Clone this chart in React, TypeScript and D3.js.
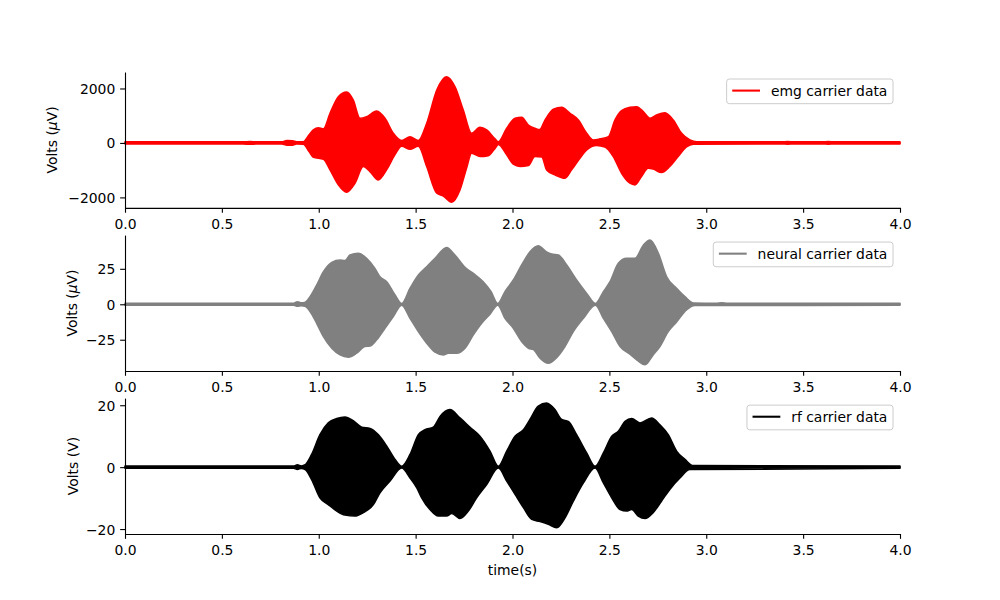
import React, { useRef, useEffect } from 'react';
import * as d3 from 'd3';

type Pt = [number, number];

// time axis ticks (s)
const xTicks = [0, 0.5, 1, 1.5, 2, 2.5, 3, 3.5, 4];

// envelopes of the carrier signals, [time (s), value]
const emgUpper: Pt[] = [
  [0, 40], [0.61, 40], [0.645, 52], [0.68, 40], [0.81, 40], [0.835, 85], [0.865, 80], [0.885, 40],
  [0.92, 45], [0.95, 300], [0.972, 477], [0.998, 562], [1.024, 520], [1.058, 1090], [1.101, 1700],
  [1.144, 1872], [1.178, 1578], [1.213, 905], [1.247, 965], [1.299, 1174], [1.342, 905], [1.385, 356],
  [1.428, 90], [1.471, 231], [1.514, 90], [1.557, 722], [1.609, 1945], [1.66, 2434], [1.703, 2067],
  [1.746, 1211], [1.789, 356], [1.832, 575], [1.867, 477], [1.91, 150], [1.927, 45], [1.97, 540],
  [2.013, 905], [2.047, 942], [2.082, 660], [2.116, 540], [2.14, 490], [2.168, 844], [2.211, 1236],
  [2.254, 1309], [2.297, 1090], [2.34, 844], [2.383, 356], [2.417, 110], [2.452, 150], [2.495, 231],
  [2.529, 844], [2.563, 1186], [2.606, 1309], [2.641, 1333], [2.675, 1150], [2.71, 905], [2.744, 1028],
  [2.787, 1113], [2.83, 844], [2.873, 356], [2.916, 110], [2.951, 40], [3.39, 40], [3.42, 50], [3.45, 40],
  [3.6, 40], [3.63, 50], [3.66, 40], [4, 40],
];
const emgLower: Pt[] = [
  [0, -40], [0.61, -40], [0.645, -48], [0.68, -40], [0.81, -40], [0.835, -85], [0.865, -85], [0.885, -40],
  [0.92, -45], [0.95, -320], [0.972, -525], [1.024, -598], [1.058, -991], [1.101, -1541], [1.144, -1810],
  [1.187, -1480], [1.23, -868], [1.264, -1052], [1.307, -1358], [1.35, -991], [1.393, -440], [1.428, -120],
  [1.471, -232], [1.514, -120], [1.557, -868], [1.609, -1847], [1.643, -1950], [1.686, -2177], [1.729, -1725],
  [1.763, -928], [1.789, -378], [1.832, -502], [1.875, -470], [1.91, -200], [1.927, -60], [1.97, -440],
  [2.004, -782], [2.039, -868], [2.082, -830], [2.116, -502], [2.151, -520], [2.176, -991], [2.219, -1174],
  [2.271, -1296], [2.305, -991], [2.348, -563], [2.383, -257], [2.434, -90], [2.477, -150], [2.52, -502],
  [2.563, -1113], [2.606, -1480], [2.632, -1541], [2.666, -1235], [2.7, -930], [2.726, -960], [2.769, -1089],
  [2.812, -868], [2.855, -502], [2.898, -150], [2.933, -45], [3.39, -40], [3.42, -46], [3.45, -40],
  [3.6, -40], [3.63, -46], [3.66, -40], [4, -40],
];

const neuralUpper: Pt[] = [
  [0, 0.75], [0.87, 0.75], [0.89, 1.8], [0.91, 1], [0.93, 1.5], [0.955, 5.4], [0.989, 13.6], [1.024, 23],
  [1.067, 29.6], [1.11, 31.2], [1.135, 30.8], [1.161, 34.7], [1.204, 35.9], [1.247, 32.4], [1.29, 25.3],
  [1.316, 19.4], [1.351, 15.9], [1.394, 6.5], [1.428, 0.6], [1.471, 11.3], [1.514, 20.6], [1.557, 26.5],
  [1.6, 32.4], [1.66, 40.1], [1.703, 34.7], [1.755, 26], [1.798, 21.8], [1.849, 15.9], [1.889, 9],
  [1.924, 0.6], [1.961, 8.9], [2.004, 17.1], [2.047, 27.7], [2.09, 37], [2.133, 41.3], [2.176, 37],
  [2.202, 35.5], [2.237, 34.7], [2.28, 27.7], [2.331, 17.1], [2.383, 7.7], [2.428, 0.6], [2.469, 8.9],
  [2.503, 15.9], [2.546, 28.9], [2.589, 32.4], [2.632, 32.4], [2.675, 41.7], [2.71, 45.3], [2.753, 35.9],
  [2.796, 19.4], [2.847, 11.3], [2.89, 5.4], [2.935, 0.9], [3.05, 0.75], [3.08, 1.0], [3.11, 0.75], [4, 0.75],
];
const neuralLower: Pt[] = [
  [0, -0.75], [0.87, -0.75], [0.89, -1.4], [0.91, -1], [0.93, -1.5], [0.955, -5.2], [0.989, -13.4],
  [1.024, -22.8], [1.067, -31], [1.11, -35.7], [1.153, -37.3], [1.196, -34.5], [1.239, -29.8], [1.264, -29.5],
  [1.299, -25.1], [1.342, -16.9], [1.385, -8.7], [1.428, -0.6], [1.471, -9.9], [1.514, -19.3], [1.557, -27.5],
  [1.6, -33.8], [1.643, -35.7], [1.669, -34.5], [1.712, -34.5], [1.755, -31], [1.798, -21.6], [1.841, -13.4],
  [1.884, -7], [1.924, -0.6], [1.961, -9.9], [2.004, -16.9], [2.047, -26.3], [2.082, -31], [2.108, -32],
  [2.142, -38], [2.185, -41.6], [2.228, -37.6], [2.271, -29.8], [2.314, -19.3], [2.366, -9.9], [2.428, -0.6],
  [2.469, -9.9], [2.512, -19.3], [2.555, -29.8], [2.606, -35.2], [2.641, -39.2], [2.684, -42.7], [2.726, -35.7],
  [2.761, -29.8], [2.804, -19.3], [2.847, -12.5], [2.898, -4], [2.941, -0.9], [4, -0.75],
];

const rfUpper: Pt[] = [
  [0, 0.35], [0.87, 0.35], [0.89, 0.75], [0.91, 0.4], [0.93, 0.8], [0.963, 4.1], [1.006, 10.5], [1.049, 14.3],
  [1.093, 15.7], [1.135, 16.2], [1.178, 15], [1.222, 12.9], [1.265, 12.5], [1.307, 10.5], [1.351, 6.8],
  [1.394, 2.5], [1.428, 0.3], [1.471, 4.1], [1.514, 10.5], [1.548, 12.1], [1.591, 12.9], [1.626, 16.4],
  [1.677, 18.6], [1.729, 15.9], [1.781, 12.9], [1.832, 10], [1.884, 5.2], [1.927, 0.3], [1.97, 5.2],
  [2.013, 10], [2.056, 12.1], [2.09, 15.4], [2.133, 19.7], [2.176, 20.7], [2.219, 18.6], [2.254, 15.4],
  [2.288, 14.8], [2.331, 10.5], [2.383, 4.6], [2.426, 0.3], [2.469, 4.6], [2.512, 10], [2.546, 11.6],
  [2.581, 14.8], [2.615, 15.7], [2.658, 14.3], [2.718, 15.9], [2.761, 13.7], [2.804, 10.5], [2.847, 5.2],
  [2.89, 2.5], [2.933, 0.5], [4, 0.35],
];
const rfLower: Pt[] = [
  [0, -0.35], [0.87, -0.35], [0.89, -0.75], [0.91, -0.4], [0.93, -0.8], [0.963, -4], [1.006, -9.9],
  [1.049, -12.1], [1.093, -14.2], [1.135, -15.5], [1.187, -15.8], [1.23, -14.7], [1.282, -12.1],
  [1.316, -8.3], [1.368, -4.5], [1.428, -0.3], [1.471, -3.5], [1.506, -6.7], [1.531, -9.9], [1.574, -13.7],
  [1.617, -15.8], [1.66, -15.8], [1.686, -15], [1.729, -16.6], [1.772, -14.2], [1.815, -9.9], [1.867, -5.6],
  [1.927, -0.3], [1.97, -4.5], [2.013, -8.8], [2.056, -13.1], [2.099, -16.9], [2.142, -17.6], [2.185, -18.5],
  [2.228, -19.6], [2.271, -16.4], [2.314, -11], [2.366, -5.1], [2.426, -0.3], [2.469, -5.1], [2.512, -9.9],
  [2.555, -13.7], [2.589, -14.2], [2.615, -13.7], [2.649, -15.8], [2.684, -16.6], [2.726, -14.7],
  [2.769, -11], [2.812, -7.2], [2.864, -3.5], [2.916, -0.8], [4, -0.35],
];

const emgTicks = [-2000, 0, 2000];
const neuralTicks = [-25, 0, 25];
const rfTicks = [-20, 0, 20];

const panels = [
  { name: 'emg carrier data', color: '#ff0000', upper: emgUpper, lower: emgLower, ticks: emgTicks, domain: [-2385, 2605], unit: 'mu', labelX: 52 },
  { name: 'neural carrier data', color: '#808080', upper: neuralUpper, lower: neuralLower, ticks: neuralTicks, domain: [-47.0, 48.8], unit: 'mu', labelX: 71.7 },
  { name: 'rf carrier data', color: '#000000', upper: rfUpper, lower: rfLower, ticks: rfTicks, domain: [-21.6, 22.3], unit: 'V', labelX: 72.7 },
];

const FONT = 'DejaVu Sans, sans-serif';
const FS = 13.9;

const CarrierChart = () => {
  const ref = useRef<SVGSVGElement>(null);

  useEffect(() => {
    const svg = d3.select(ref.current);
    svg.selectAll('*').remove();

    const left = 125, right = 900, top = 72, bottom = 534;
    const h = (bottom - top) / 3.4;
    const gap = h * 0.2;
    const x = d3.scaleLinear().domain([0, 4]).range([left, right]);

    panels.forEach((p, i) => {
      const y0 = top + i * (h + gap);
      const y = d3.scaleLinear().domain(p.domain).range([y0 + h, y0]);
      const g = svg.append('g');

      // upper and lower halves of the envelope
      const upArea = d3.area<Pt>().x(d => x(d[0])).y0(y(0)).y1(d => y(d[1])).curve(d3.curveMonotoneX);
      const loArea = d3.area<Pt>().x(d => x(d[0])).y0(d => y(d[1])).y1(y(0)).curve(d3.curveMonotoneX);
      [upArea(p.upper), loArea(p.lower)].forEach(d => {
        g.append('path')
          .attr('d', d)
          .attr('fill', p.color)
          .attr('stroke', p.color)
          .attr('stroke-width', 1.5)
          .attr('stroke-linejoin', 'round');
      });

      // axes
      const xa = g.append('g')
        .attr('transform', `translate(0,${y0 + h})`)
        .call(d3.axisBottom(x).tickValues(xTicks).tickFormat(d3.format('.1f')).tickSize(4.86).tickPadding(4.86).tickSizeOuter(0));
      const ya = g.append('g')
        .attr('transform', `translate(${left},0)`)
        .call(d3.axisLeft(y).tickValues(p.ticks).tickFormat(d => d3.format('d')(d as number).replace('-', '\u2212')).tickSize(4.86).tickPadding(4.86).tickSizeOuter(0));
      [xa, ya].forEach(a => {
        a.attr('font-family', FONT).attr('font-size', FS);
        a.selectAll('path, line').attr('stroke', '#000').attr('stroke-width', 1.11);
        a.selectAll('text').attr('fill', '#000');
      });
      xa.selectAll('text').attr('dy', null).attr('y', 20.7).attr('dominant-baseline', 'alphabetic');
      ya.selectAll('text').attr('dy', null).attr('dominant-baseline', 'central');

      // y label
      const yl = g.append('text')
        .attr('transform', `translate(${p.labelX},${y0 + h / 2}) rotate(-90)`)
        .attr('text-anchor', 'middle')
        .attr('dominant-baseline', 'central')
        .attr('font-family', FONT)
        .attr('font-size', FS)
        .attr('fill', '#000');
      if (p.unit === 'mu') {
        yl.append('tspan').text('Volts (');
        yl.append('tspan').attr('font-style', 'italic').text('\u03bc');
        yl.append('tspan').text('V)');
      } else {
        yl.text('Volts (V)');
      }

      // legend
      const lg = g.append('g');
      const bx = right - 7;
      const by = y0 + 7;
      const rect = lg.append('rect');
      const txt = lg.append('text')
        .text(p.name)
        .attr('font-family', FONT)
        .attr('font-size', FS)
        .attr('fill', '#000')
        .attr('dominant-baseline', 'central');
      const tw = (txt.node() as SVGTextElement).getComputedTextLength();
      const boxW = tw + 44.3 + 5.6;
      const lx = bx - boxW;
      rect.attr('x', lx).attr('y', by).attr('width', boxW).attr('height', 24.7)
        .attr('rx', 2.8).attr('fill', '#fff').attr('fill-opacity', 0.8)
        .attr('stroke', '#cccccc').attr('stroke-width', 1);
      lg.append('line')
        .attr('x1', lx + 5.6).attr('x2', lx + 33.4)
        .attr('y1', by + 11.6).attr('y2', by + 11.6)
        .attr('stroke', p.color).attr('stroke-width', 2.08);
      txt.attr('x', lx + 44.3).attr('y', by + 12.2);
    });

    svg.append('text')
      .attr('x', (left + right) / 2)
      .attr('y', 570)
      .attr('text-anchor', 'middle')
      .attr('dominant-baseline', 'central')
      .attr('font-family', FONT)
      .attr('font-size', FS)
      .attr('fill', '#000')
      .text('time(s)');
  }, []);

  return <svg ref={ref} width="1000" height="600" style={{ position: 'absolute', left: 0, top: 0, background: '#fff' }}></svg>;
};

export default function App() {
  return <CarrierChart />;
}
